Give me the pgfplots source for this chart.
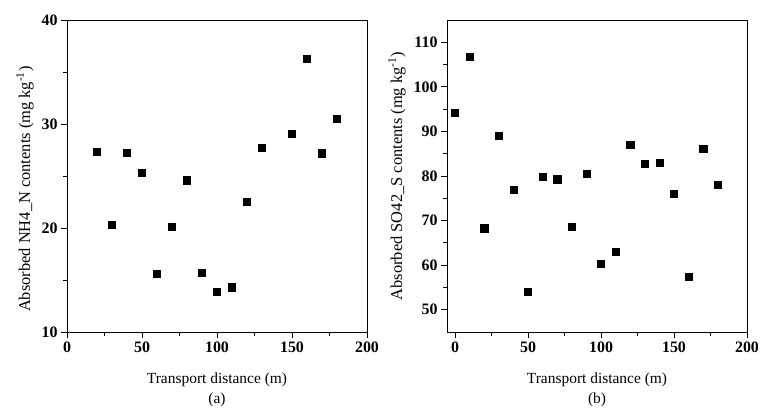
\documentclass[border=0pt]{standalone}
\usepackage{fontspec}
\setmainfont{Liberation Serif}
\usepackage{pgfplots}
\pgfplotsset{compat=1.18}

\pgfplotsset{
  panel/.style={
    width=300bp, height=312bp, scale only axis,
    axis line style={line width=0.8bp},
    tick style={black, line width=0.8bp},
    tick align=outside,
    xtick pos=bottom, ytick pos=left,
    major tick length=6bp, minor tick length=4bp,
    minor tick num=1,
    xmax=200, xtick={0,50,...,200},
    /pgf/number format/assume math mode=true,
    tick label style={font=\fontsize{16}{18}\selectfont\bfseries},
    label style={font=\fontsize{15.5}{18}\selectfont},
    ylabel style={font=\fontsize{16.5}{19}\selectfont},
    xlabel={Transport distance (m)},
    xlabel style={at={(axis description cs:0.5,-0.154)}, anchor=center},
    clip=false,
  },
  pts/.style={only marks, mark=square*, mark size=3.6bp, black},
}

\begin{document}
\begin{tikzpicture}
\path[use as bounding box] (0,0) rectangle (760bp,409bp);

% (a) NH4_N
\begin{axis}[panel,
  at={(67bp,77bp)}, anchor=south west,
  xmin=0, ymin=10, ymax=40, ytick={10,20,30,40},
  ylabel={Absorbed NH4\_N contents (mg kg\textsuperscript{-1})},
  ylabel style={at={(axis description cs:-0.14,0.458)}, anchor=center},
]
\addplot[pts] table {
20 27.3
30 20.3
40 27.25
50 25.3
60 15.6
70 20.15
80 24.6
90 15.7
100 13.85
110 14.3
120 22.5
130 27.75
150 29.05
160 36.3
170 27.2
180 30.5
};
\node[font=\fontsize{15.5}{18}\selectfont] at (axis description cs:0.5,-0.218) {(a)};
\end{axis}

% (b) SO42_S
\begin{axis}[panel,
  at={(447bp,77bp)}, anchor=south west,
  xmin=-5.5, ymin=45, ymax=115, ytick={50,60,...,110},
  ylabel={Absorbed SO42\_S contents (mg kg\textsuperscript{-1})},
  ylabel style={at={(axis description cs:-0.167,0.5)}, anchor=center},
]
\addplot[pts] table {
0 94.25
10 106.8
20 68.3
30 89.0
40 76.9
50 54.0
60 79.9
70 79.3
80 68.6
90 80.6
100 60.3
110 63.05
120 87.1
130 82.75
140 83.0
150 76.1
160 57.4
170 86.1
180 78.0
};
\node[font=\fontsize{15.5}{18}\selectfont] at (axis description cs:0.5,-0.218) {(b)};
\end{axis}
\end{tikzpicture}
\end{document}
